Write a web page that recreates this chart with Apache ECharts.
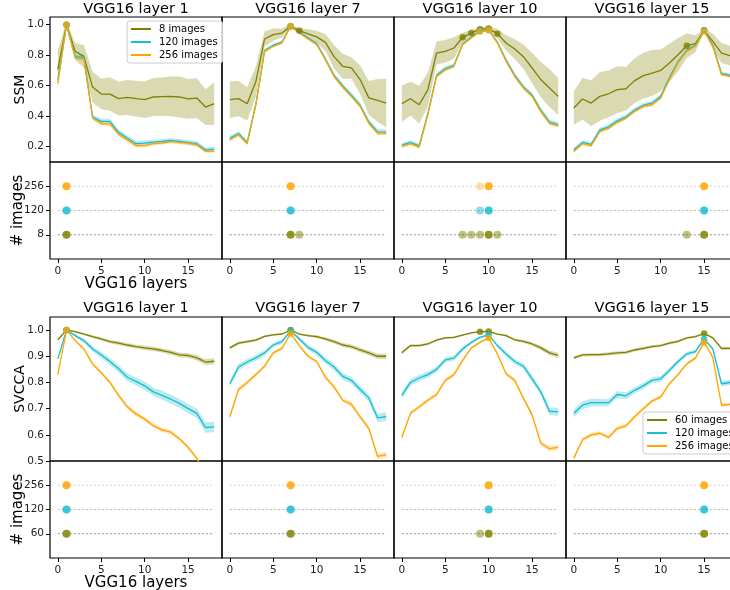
<!DOCTYPE html>
<html><head><meta charset="utf-8">
<script src="https://cdn.jsdelivr.net/npm/echarts@6/dist/echarts.min.js"></script>
<style>html,body{margin:0;padding:0;background:#fff}#c{width:730px;height:590px}</style>
</head><body><div id="c"></div>
<script>
// ---------- DATA ----------
const layers = [0,1,2,3,4,5,6,7,8,9,10,11,12,13,14,15,16,17,18];
const panelTitles = ['VGG16 layer 1','VGG16 layer 7','VGG16 layer 10','VGG16 layer 15'];
const xTicks = [0,5,10,15];
const ssmTicks = [0.2,0.4,0.6,0.8,1.0];
const svccaTicks = [0.5,0.6,0.7,0.8,0.9,1.0];
const ssmSizes = ['8 images','120 images','256 images'];
const svccaSizes = ['60 images','120 images','256 images'];
const ssmRowLabels = ['8','120','256'];
const svccaRowLabels = ['60','120','256'];

// SSM means (one array per panel)
const ssm8 = [
 [0.705,1.0,0.825,0.792,0.591,0.545,0.545,0.515,0.523,0.515,0.508,0.526,0.528,0.530,0.526,0.513,0.519,0.460,0.482],
 [0.508,0.515,0.482,0.628,0.906,0.934,0.945,0.990,0.960,0.940,0.920,0.884,0.790,0.727,0.716,0.640,0.520,0.504,0.486],
 [0.482,0.515,0.475,0.574,0.814,0.825,0.847,0.917,0.945,0.970,0.974,0.941,0.880,0.840,0.790,0.716,0.640,0.585,0.530],
 [0.454,0.513,0.486,0.530,0.547,0.574,0.580,0.633,0.666,0.683,0.700,0.749,0.803,0.862,0.875,0.963,0.890,0.814,0.797]
];
const ssm8Std = [
 [0.125,0.02,0.055,0.075,0.10,0.10,0.11,0.11,0.115,0.117,0.12,0.125,0.125,0.13,0.134,0.13,0.13,0.117,0.14],
 [0.12,0.115,0.11,0.10,0.05,0.04,0.03,0.01,0.02,0.03,0.04,0.055,0.077,0.082,0.071,0.093,0.11,0.14,0.16],
 [0.12,0.11,0.125,0.11,0.075,0.075,0.07,0.03,0.02,0.014,0.015,0.03,0.05,0.065,0.08,0.10,0.115,0.125,0.12],
 [0.11,0.137,0.15,0.16,0.153,0.153,0.142,0.147,0.15,0.15,0.137,0.125,0.11,0.08,0.055,0.01,0.05,0.065,0.065]
];
const ssm120 = [
 [0.640,1.0,0.790,0.785,0.395,0.366,0.366,0.294,0.257,0.220,0.224,0.230,0.235,0.241,0.235,0.228,0.220,0.180,0.185],
 [0.255,0.287,0.228,0.480,0.830,0.865,0.885,0.990,0.950,0.912,0.876,0.775,0.668,0.598,0.538,0.472,0.362,0.298,0.296],
 [0.210,0.228,0.205,0.418,0.668,0.712,0.733,0.875,0.918,0.958,0.965,0.885,0.768,0.668,0.592,0.538,0.440,0.362,0.345],
 [0.180,0.228,0.215,0.310,0.330,0.370,0.396,0.440,0.472,0.485,0.530,0.650,0.758,0.832,0.865,0.962,0.865,0.680,0.668]
];
const ssm120Std = [
 [0.02,0.003,0.015,0.015,0.018,0.018,0.017,0.016,0.016,0.017,0.017,0.016,0.016,0.017,0.016,0.016,0.016,0.015,0.016],
 [0.015,0.016,0.014,0.015,0.012,0.01,0.01,0.004,0.008,0.01,0.012,0.014,0.015,0.016,0.017,0.017,0.018,0.018,0.018],
 [0.014,0.015,0.014,0.016,0.016,0.015,0.014,0.012,0.01,0.006,0.005,0.01,0.013,0.015,0.016,0.016,0.017,0.017,0.017],
 [0.014,0.015,0.015,0.016,0.016,0.016,0.016,0.016,0.015,0.015,0.015,0.014,0.012,0.01,0.01,0.004,0.01,0.012,0.012]
];
const ssm256 = [
 [0.617,1.0,0.780,0.775,0.390,0.350,0.350,0.280,0.245,0.207,0.207,0.220,0.224,0.235,0.228,0.224,0.213,0.170,0.170],
 [0.246,0.279,0.220,0.475,0.825,0.858,0.880,0.990,0.945,0.906,0.870,0.770,0.660,0.590,0.530,0.465,0.355,0.290,0.290],
 [0.202,0.220,0.198,0.410,0.660,0.705,0.727,0.870,0.913,0.955,0.963,0.880,0.760,0.660,0.585,0.530,0.432,0.355,0.338],
 [0.170,0.220,0.207,0.300,0.322,0.360,0.388,0.432,0.464,0.475,0.520,0.640,0.750,0.825,0.858,0.956,0.858,0.672,0.661]
];
const ssm256Std = [
 [0.015,0.002,0.01,0.01,0.012,0.012,0.012,0.011,0.011,0.012,0.012,0.011,0.011,0.012,0.011,0.011,0.011,0.01,0.01],
 [0.01,0.011,0.01,0.011,0.009,0.008,0.007,0.003,0.006,0.007,0.009,0.01,0.011,0.011,0.012,0.012,0.012,0.012,0.012],
 [0.01,0.011,0.01,0.011,0.011,0.01,0.01,0.008,0.007,0.005,0.004,0.007,0.009,0.01,0.011,0.011,0.012,0.012,0.012],
 [0.01,0.011,0.011,0.011,0.011,0.011,0.011,0.011,0.011,0.011,0.011,0.01,0.009,0.008,0.007,0.003,0.007,0.009,0.009]
];

// SVCCA means
const svcca60 = [
 [0.963,1.0,0.994,0.985,0.975,0.966,0.956,0.950,0.943,0.937,0.932,0.928,0.922,0.915,0.905,0.903,0.894,0.878,0.881],
 [0.932,0.950,0.956,0.962,0.976,0.982,0.985,1.0,0.985,0.979,0.975,0.966,0.956,0.943,0.937,0.924,0.913,0.900,0.900],
 [0.913,0.941,0.941,0.947,0.962,0.970,0.972,0.981,0.989,0.994,0.995,0.985,0.979,0.963,0.957,0.947,0.932,0.913,0.903],
 [0.894,0.905,0.906,0.906,0.909,0.913,0.915,0.924,0.930,0.937,0.941,0.950,0.957,0.970,0.975,0.987,0.970,0.930,0.930]
];
const svcca60Std = [
 [0.004,0.001,0.003,0.004,0.005,0.006,0.006,0.007,0.007,0.007,0.008,0.008,0.008,0.009,0.009,0.009,0.01,0.011,0.011],
 [0.005,0.005,0.005,0.005,0.004,0.004,0.003,0.001,0.003,0.004,0.005,0.006,0.007,0.008,0.008,0.009,0.009,0.01,0.01],
 [0.006,0.005,0.005,0.005,0.004,0.004,0.004,0.003,0.002,0.002,0.002,0.003,0.004,0.005,0.006,0.007,0.008,0.009,0.01],
 [0.006,0.006,0.006,0.006,0.006,0.006,0.006,0.006,0.006,0.005,0.005,0.005,0.005,0.004,0.004,0.002,0.004,0.006,0.006]
];
const svcca120 = [
 [0.890,1.0,0.979,0.960,0.928,0.905,0.880,0.852,0.820,0.804,0.787,0.764,0.751,0.736,0.720,0.700,0.682,0.628,0.630],
 [0.795,0.859,0.878,0.894,0.913,0.943,0.956,0.997,0.966,0.934,0.915,0.884,0.859,0.823,0.808,0.773,0.741,0.665,0.669],
 [0.751,0.800,0.817,0.830,0.850,0.886,0.893,0.928,0.953,0.972,0.982,0.941,0.909,0.880,0.862,0.814,0.764,0.690,0.688],
 [0.682,0.713,0.723,0.723,0.723,0.754,0.749,0.770,0.787,0.808,0.814,0.846,0.880,0.909,0.918,0.966,0.928,0.795,0.800]
];
const svcca120Std = [
 [0.004,0.001,0.005,0.008,0.01,0.012,0.013,0.014,0.015,0.015,0.016,0.016,0.017,0.017,0.017,0.018,0.018,0.02,0.02],
 [0.012,0.012,0.011,0.011,0.01,0.009,0.008,0.003,0.008,0.01,0.011,0.012,0.012,0.013,0.013,0.014,0.014,0.016,0.016],
 [0.013,0.013,0.012,0.012,0.011,0.01,0.009,0.008,0.006,0.004,0.003,0.007,0.009,0.01,0.011,0.012,0.013,0.014,0.015],
 [0.015,0.015,0.015,0.014,0.014,0.013,0.013,0.012,0.012,0.011,0.011,0.01,0.009,0.008,0.007,0.004,0.007,0.01,0.01]
];
const svcca256 = [
 [0.830,1.0,0.960,0.928,0.871,0.837,0.800,0.751,0.707,0.680,0.660,0.635,0.619,0.610,0.585,0.552,0.510,0.450,0.420],
 [0.669,0.773,0.800,0.830,0.862,0.913,0.930,0.987,0.941,0.900,0.880,0.820,0.783,0.732,0.716,0.669,0.625,0.518,0.524],
 [0.590,0.682,0.707,0.732,0.754,0.808,0.830,0.884,0.932,0.953,0.970,0.909,0.833,0.808,0.739,0.676,0.568,0.547,0.552],
 [0.511,0.581,0.600,0.606,0.590,0.625,0.634,0.669,0.700,0.729,0.745,0.795,0.830,0.871,0.893,0.953,0.896,0.713,0.716]
];
const svcca256Std = [
 [0.003,0.001,0.004,0.005,0.006,0.007,0.007,0.008,0.008,0.008,0.008,0.008,0.008,0.008,0.008,0.008,0.008,0.008,0.008],
 [0.008,0.008,0.008,0.008,0.007,0.007,0.006,0.003,0.006,0.007,0.007,0.008,0.008,0.008,0.009,0.009,0.009,0.01,0.01],
 [0.008,0.008,0.008,0.008,0.008,0.007,0.007,0.006,0.005,0.004,0.003,0.006,0.007,0.008,0.008,0.009,0.009,0.01,0.01],
 [0.008,0.008,0.008,0.008,0.008,0.008,0.008,0.008,0.007,0.007,0.007,0.007,0.006,0.006,0.005,0.003,0.005,0.007,0.007]
];

// best layer (dark dot) and near-best layers (light dots), per panel
const ssmBest8 = [1,7,10,15],   ssmNear8 = [[],[8],[7,8,9,11],[13]];
const ssmBest120 = [1,7,10,15], ssmNear120 = [[],[],[9],[]];
const ssmBest256 = [1,7,10,15], ssmNear256 = [[],[],[9],[]];
const svBest60 = [1,7,10,15],   svNear60 = [[],[],[9],[]];
const svBest120 = [1,7,10,15],  svNear120 = [[],[],[],[]];
const svBest256 = [1,7,10,15],  svNear256 = [[],[],[],[]];

// ---------- STYLE / LAYOUT ----------
const FONT = 'DejaVu Sans';
const colors = ['#808000','#17becf','#ffa500'];
const bandFill = ['rgba(128,128,0,0.3)','rgba(23,190,207,0.3)','rgba(255,165,0,0.3)'];
const nearOpacity = [0.5,0.5,0.35];
const rowLineColors = ['#909090','#b8b8b8','#d0d0d0'];
const colLeft = [50,222,394,566], colW = 172;
const rowTop = [17,162,317,461], rowH = [145,97,144,97];

const grids=[], xAxes=[], yAxes=[], series=[], graphics=[];

const lineRows = [
  {means:[ssm8,ssm120,ssm256], stds:[ssm8Std,ssm120Std,ssm256Std], names:ssmSizes,
   best:[ssmBest8,ssmBest120,ssmBest256], near:[ssmNear8,ssmNear120,ssmNear256],
   min:0.1, max:1.05, ticks:ssmTicks, name:'SSM', rowLabels:ssmRowLabels},
  {means:[svcca60,svcca120,svcca256], stds:[svcca60Std,svcca120Std,svcca256Std], names:svccaSizes,
   best:[svBest60,svBest120,svBest256], near:[svNear60,svNear120,svNear256],
   min:0.5, max:1.05, ticks:svccaTicks, name:'SVCCA', rowLabels:svccaRowLabels}
];

const tickLabel = {fontFamily:FONT, fontSize:10.5, color:'#222'};

function bandRender(fill){
  return function(params, api){
    if (params.dataIndex !== 0) return null;
    const n = params.dataInsideLength;
    const up = [], lo = [];
    for (let i=0;i<n;i++){
      up.push(api.coord([api.value(0,i), api.value(2,i)]));
      lo.push(api.coord([api.value(0,i), api.value(1,i)]));
    }
    const cs = params.coordSys;
    return {type:'polygon', shape:{points:up.concat(lo.reverse())}, style:{fill:fill},
      clipPath:{type:'rect', shape:{x:cs.x, y:cs.y, width:cs.width, height:cs.height}}};
  };
}

for (let r=0;r<4;r++){
  const block = lineRows[r>>1];
  const isDot = r%2===1;
  for (let c=0;c<4;c++){
    const idx = grids.length;
    grids.push({left:colLeft[c], top:rowTop[r], width:colW, height:rowH[r],
      outerBoundsMode:'none', containLabel:false,
      show:true, borderColor:'#000', borderWidth:1.2, backgroundColor:'transparent'});
    xAxes.push({type:'value', gridIndex:idx, min:-0.9, max:18.9, position:'bottom',
      axisLine:{show:false, onZero:false}, splitLine:{show:false},
      axisTick:{show:isDot, customValues:xTicks, length:4, lineStyle:{color:'#000'}},
      axisLabel:{show:isDot, customValues:xTicks, margin:7, ...tickLabel},
      name:(isDot&&c===0)?'VGG16 layers':'', nameLocation:'middle', nameGap:18, nameMoveOverlap:false,
      nameTextStyle:{fontFamily:FONT, fontSize:15, color:'#000'}});
    if (!isDot){
      yAxes.push({type:'value', gridIndex:idx, min:block.min, max:block.max, position:'left',
        axisLine:{show:false, onZero:false}, splitLine:{show:false},
        axisTick:{show:c===0, customValues:block.ticks, length:4, lineStyle:{color:'#000'}},
        axisLabel:{show:c===0, customValues:block.ticks, margin:6, formatter:v=>v.toFixed(1), ...tickLabel},
        name:c===0?block.name:'', nameLocation:'middle', nameGap:23, nameMoveOverlap:false,
        nameTextStyle:{fontFamily:FONT, fontSize:14, color:'#000'}});
      for (let s=0;s<3;s++){
        const m = block.means[s][c], sd = block.stds[s][c];
        series.push({type:'custom', xAxisIndex:idx, yAxisIndex:idx, silent:true, z:1,
          encode:{x:0, y:[1,2]}, renderItem:bandRender(bandFill[s]),
          data:layers.map((x,i)=>[x, m[i]-sd[i], m[i]+sd[i]])});
      }
      for (let s=0;s<3;s++){
        const m = block.means[s][c];
        series.push({type:'line', name:block.names[s], xAxisIndex:idx, yAxisIndex:idx, symbol:'none',
          lineStyle:{color:colors[s], width:1.3}, itemStyle:{color:colors[s]}, z:2,
          data:layers.map((x,i)=>[x, m[i]])});
      }
      for (let s=0;s<3;s++){
        const m = block.means[s][c];
        const pts = [block.best[s][c]].concat(block.near[s][c]);
        series.push({type:'scatter', xAxisIndex:idx, yAxisIndex:idx, symbolSize:6.5, silent:true,
          itemStyle:{color:colors[s]}, z:3, data:pts.map(i=>[layers[i], m[i]])});
      }
    } else {
      yAxes.push({type:'value', gridIndex:idx, min:-1, max:3, position:'left',
        axisLine:{show:false, onZero:false}, splitLine:{show:false},
        axisTick:{show:c===0, customValues:[0,1,2], length:4, lineStyle:{color:'#000'}},
        axisLabel:{show:c===0, customValues:[0,1,2], margin:6, formatter:v=>block.rowLabels[v], ...tickLabel},
        name:c===0?'# images':'', nameLocation:'middle', nameGap:24, nameMoveOverlap:false,
        nameTextStyle:{fontFamily:FONT, fontSize:15, color:'#000'}});
      for (let s=0;s<3;s++){
        series.push({type:'line', xAxisIndex:idx, yAxisIndex:idx, symbol:'none', silent:true, z:1,
          lineStyle:{color:rowLineColors[s], width:1, type:[2,2]},
          data:[[layers[0], s],[layers[18], s]]});
      }
      for (let s=0;s<3;s++){
        series.push({type:'scatter', xAxisIndex:idx, yAxisIndex:idx, symbolSize:8, silent:true, z:2,
          itemStyle:{color:colors[s], opacity:nearOpacity[s]},
          data:block.near[s][c].map(i=>[layers[i], s])});
        series.push({type:'scatter', xAxisIndex:idx, yAxisIndex:idx, symbolSize:8, silent:true, z:3,
          itemStyle:{color:colors[s], opacity:0.85},
          data:[[layers[block.best[s][c]], s]]});
      }
    }
  }
}

// titles
for (let r=0;r<2;r++){
  for (let c=0;c<4;c++){
    graphics.push({type:'text', x:colLeft[c]+colW/2, y:(r===0?9:308),
      style:{text:panelTitles[c], fontFamily:FONT, fontSize:14.5, fill:'#000', align:'center', verticalAlign:'middle'}});
  }
}

const legendCommon = {orient:'vertical', icon:'rect', itemWidth:20, itemHeight:2, itemGap:3,
  backgroundColor:'rgba(255,255,255,0.85)', borderColor:'#cccccc', borderWidth:1, borderRadius:3,
  padding:[3,5,3,4], selectedMode:false,
  textStyle:{fontFamily:FONT, fontSize:10, color:'#000', padding:[0,0,0,3]}};

const chart = echarts.init(document.getElementById('c'), null, {renderer:'canvas'});
chart.setOption({
  animation:false,
  backgroundColor:'#fff',
  grid:grids, xAxis:xAxes, yAxis:yAxes, series:series,
  legend:[
    Object.assign({}, legendCommon, {data:ssmSizes, left:127, top:21}),
    Object.assign({}, legendCommon, {data:svccaSizes, left:643, top:412})
  ],
  graphic:graphics
});
</script></body></html>
